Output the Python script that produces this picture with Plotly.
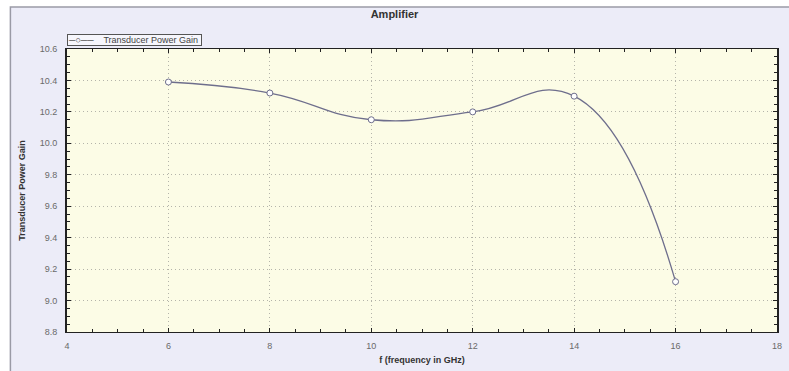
import plotly.graph_objects as go

# Transducer power gain of the amplifier across frequency
freq_ghz = [6, 8, 10, 12, 14, 16]
power_gain = [10.39, 10.32, 10.15, 10.20, 10.30, 9.12]
series_name = "Transducer Power Gain"

x_ticks = [4, 6, 8, 10, 12, 14, 16, 18]
y_ticks = [8.8, 9.0, 9.2, 9.4, 9.6, 9.8, 10.0, 10.2, 10.4, 10.6]

FONT = "Liberation Sans, Arial, sans-serif"
LINE_COLOR = "#6e6e8c"

fig = go.Figure()
fig.add_trace(go.Scatter(
    x=freq_ghz, y=power_gain,
    mode="lines+markers",
    name=series_name,
    showlegend=False,
    line=dict(color=LINE_COLOR, width=1.3, shape="spline", smoothing=1.3),
    marker=dict(symbol="circle", size=6, color="white",
                line=dict(color=LINE_COLOR, width=1)),
))

axis_common = dict(
    showgrid=True, gridcolor="#b4b4aa", griddash="1px,3px", gridwidth=1,
    showline=True, linecolor="#222222", mirror="allticks",
    ticks="inside", ticklen=4, tickcolor="#222222",
    tickfont=dict(family=FONT, size=9, color="#6a6a6a"),
    zeroline=False,
)

fig.update_xaxes(
    range=[4, 18], tickvals=x_ticks, ticktext=[str(v) for v in x_ticks],
    linewidth=1, ticklabelstandoff=5,
    minor=dict(ticks="inside", dtick=0.5, ticklen=3, tickcolor="#222222", showgrid=False),
    title=dict(text="<b>f (frequency in GHz)</b>", font=dict(family=FONT, size=9, color="#333333"),
               standoff=6),
    **axis_common,
)
fig.update_yaxes(
    range=[8.8, 10.6], tickvals=y_ticks, ticktext=[f"{v:.1f}" for v in y_ticks],
    linewidth=2, ticklabelstandoff=6,
    minor=dict(ticks="inside", dtick=0.05, ticklen=3, tickcolor="#222222", showgrid=False),
    title=dict(text="<b>Transducer Power Gain</b>", font=dict(family=FONT, size=9, color="#333333"),
               standoff=13),
    **axis_common,
)

fig.update_layout(
    width=789, height=371,
    margin=dict(l=67, r=7, t=49, b=39),
    paper_bgcolor="white",
    plot_bgcolor="rgba(0,0,0,0)",
    title=dict(text="<b>Amplifier</b>", x=0.5, xanchor="center", y=0.963, yanchor="middle",
               font=dict(family=FONT, size=11, color="#333333")),
    shapes=[
        # outer chart panel
        dict(type="rect", xref="paper", yref="paper", layer="below",
             x0=-57 / 715, x1=1.02, y0=-0.2, y1=1 + 42 / 283,
             fillcolor="#ececf8", line=dict(color="#9a9aa6", width=1.5)),
        # plotting area background
        dict(type="rect", xref="x domain", yref="y domain", layer="below",
             x0=0, x1=1, y0=0, y1=1, fillcolor="#fcfce6", line=dict(width=0)),
    ],
    annotations=[
        # compact series key above the plot area
        dict(xref="paper", yref="paper", x=0, y=1.01, xanchor="left", yanchor="bottom",
             text="\u2500\u25cb\u2500\u2500    " + series_name + " ", showarrow=False,
             font=dict(family=FONT, size=9, color="#444444"),
             bordercolor="#555555", borderwidth=1, borderpad=0,
             bgcolor="rgba(255,255,255,0.5)"),
    ],
)

fig.write_html("out.html")
